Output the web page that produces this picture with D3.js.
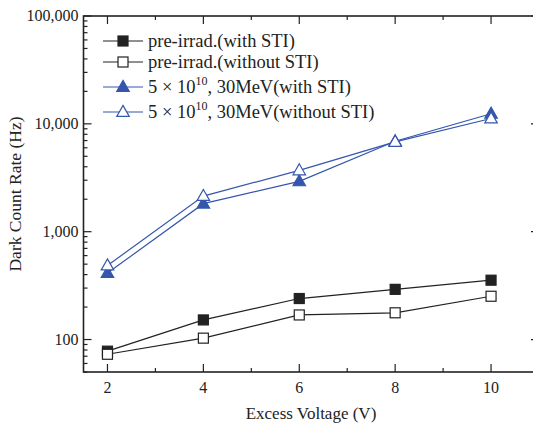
<!DOCTYPE html>
<html><head><meta charset="utf-8">
<script src="https://cdn.jsdelivr.net/npm/d3@7"></script>
<style>body{margin:0;background:#fff}svg{display:block}text{font-family:"Liberation Serif","Times New Roman",serif;fill:#222}</style>
</head><body><svg id="c" width="533" height="427"></svg>
<script>
const voltages = [2, 4, 6, 8, 10];
const preWithSTI = [78, 152, 240, 292, 355];
const preWithoutSTI = [73, 103, 169, 177, 252];
const irrWithSTI = [413, 1820, 2930, 6890, 12400];
const irrWithoutSTI = [486, 2140, 3700, 6800, 11200];
const xTicks = [2, 4, 6, 8, 10];
const yTicks = [100, 1000, 10000, 100000];
const seriesNames = ["pre-irrad.(with STI)", "pre-irrad.(without STI)", "5 × 10¹⁰, 30MeV(with STI)", "5 × 10¹⁰, 30MeV(without STI)"];

const series = [
  {name: seriesNames[0], vals: preWithSTI, color: "#222", shape: "square", fill: true},
  {name: seriesNames[1], vals: preWithoutSTI, color: "#222", shape: "square", fill: false},
  {name: seriesNames[2], vals: irrWithSTI, color: "#3556ad", shape: "triangle", fill: true},
  {name: seriesNames[3], vals: irrWithoutSTI, color: "#3556ad", shape: "triangle", fill: false}
];

const svg = d3.select("#c");
const L = 83.5, R = 539, T = 16, B = 372;
const x = d3.scaleLinear().domain([1.5, 11]).range([L, R]);
const y = d3.scaleLog().domain([50, 100000]).range([B, T]);

const g = svg.append("g");
const xMinor = d3.range(2, 11.01, 1);
const yMinor = [];
[10, 100, 1000, 10000].forEach(d => { for (let k = 1; k < 10; k++) { const v = d * k; if (v >= 50 && v <= 100000) yMinor.push(v); } });

function tickLines(sel, isX, vals, len) {
  vals.forEach(v => {
    if (isX) {
      sel.append("line").attr("x1", x(v)).attr("x2", x(v)).attr("y1", B).attr("y2", B - len).attr("stroke", "#222").attr("stroke-width", 1.2);
      sel.append("line").attr("x1", x(v)).attr("x2", x(v)).attr("y1", T).attr("y2", T + len).attr("stroke", "#222").attr("stroke-width", 1.2);
    } else {
      sel.append("line").attr("x1", L).attr("x2", L + len).attr("y1", y(v)).attr("y2", y(v)).attr("stroke", "#222").attr("stroke-width", 1.2);
      sel.append("line").attr("x1", R).attr("x2", R - len).attr("y1", y(v)).attr("y2", y(v)).attr("stroke", "#222").attr("stroke-width", 1.2);
    }
  });
}
tickLines(g, true, xMinor.filter(v => v % 2 === 1), 4);
tickLines(g, true, xTicks, 8);
tickLines(g, false, yMinor.filter(v => !yTicks.includes(v)), 4);
tickLines(g, false, yTicks, 8);

g.append("rect").attr("x", L).attr("y", T).attr("width", R - L).attr("height", B - T)
  .attr("fill", "none").attr("stroke", "#222").attr("stroke-width", 1.6);

xTicks.forEach(v => g.append("text").attr("x", x(v)).attr("y", B + 20.5).attr("text-anchor", "middle").attr("font-size", 16).text(v));
yTicks.forEach(v => g.append("text").attr("x", L - 5).attr("y", y(v) + 5).attr("text-anchor", "end").attr("font-size", 16).text(d3.format(",")(v)));

svg.append("text").attr("x", 311).attr("y", 419).attr("text-anchor", "middle").attr("font-size", 17).text("Excess Voltage (V)");
svg.append("text").attr("transform", "translate(21,194) rotate(-90)").attr("text-anchor", "middle").attr("font-size", 17.5).text("Dark Count Rate (Hz)");

function marker(sel, s, cx, cy) {
  if (s.shape === "square") {
    sel.append("rect").attr("x", cx - 5).attr("y", cy - 5).attr("width", 10).attr("height", 10)
      .attr("fill", s.fill ? s.color : "#fff").attr("stroke", s.color).attr("stroke-width", 1.2);
  } else {
    const h = 11, w = 12.5;
    sel.append("path").attr("d", `M${cx},${cy - h * 0.6}L${cx + w / 2},${cy + h * 0.4}L${cx - w / 2},${cy + h * 0.4}Z`)
      .attr("fill", s.fill ? s.color : "#fff").attr("stroke", s.color).attr("stroke-width", 1.2);
  }
}

const line = d3.line().x(d => x(d[0])).y(d => y(d[1]));
series.forEach(s => {
  const pts = voltages.map((v, i) => [v, s.vals[i]]);
  g.append("path").attr("d", line(pts)).attr("fill", "none").attr("stroke", s.color).attr("stroke-width", 1.2);
});
series.forEach(s => {
  voltages.forEach((v, i) => marker(g, s, x(v), y(s.vals[i])));
});

const legY = [41, 62, 87, 112];
series.forEach((s, i) => {
  const ly = legY[i];
  svg.append("line").attr("x1", 103).attr("x2", 143).attr("y1", ly).attr("y2", ly).attr("stroke", s.color).attr("stroke-width", 1.2);
  marker(svg, s, 123, ly);
  const t = svg.append("text").attr("x", 148).attr("y", ly + 6).attr("font-size", 18.5);
  if (i < 2) t.text(s.name);
  else {
    t.append("tspan").text("5 × 10");
    t.append("tspan").attr("dy", -8).attr("font-size", 12).text("10");
    t.append("tspan").attr("dy", 8).text(i === 2 ? ", 30MeV(with STI)" : ", 30MeV(without STI)");
  }
});
</script></body></html>
